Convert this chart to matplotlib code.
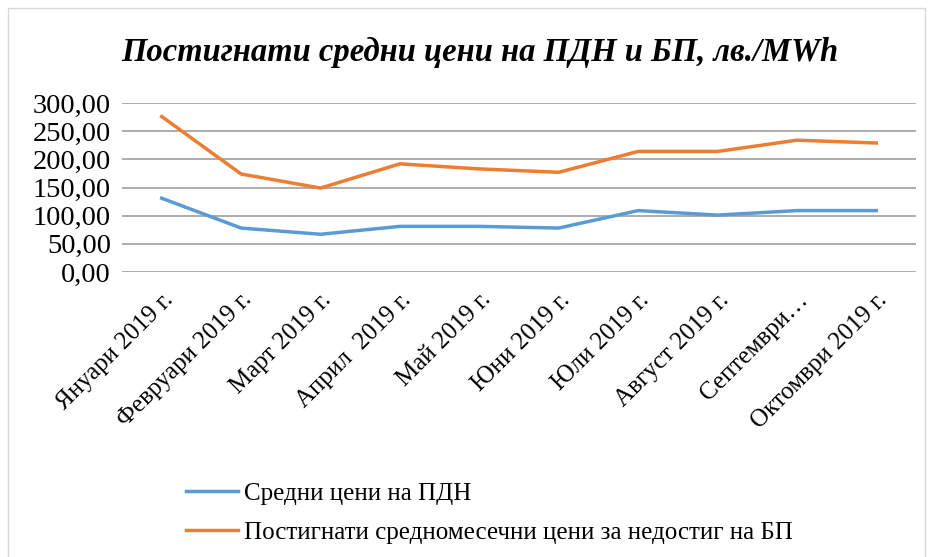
import matplotlib.pyplot as plt
import matplotlib.transforms as mtransforms
from matplotlib.patches import Rectangle

# monthly values
months = ["Януари 2019 г.", "Февруари 2019 г.", "Март 2019 г.", "Април  2019 г.",
          "Май 2019 г.", "Юни 2019 г.", "Юли 2019 г.", "Август 2019 г.",
          "Септември…", "Октомври 2019 г."]
pdn = [131, 78, 67, 81, 81, 78, 109, 101, 109, 109]
bp = [276, 174, 149, 192, 183, 177, 214, 214, 234, 229]
yticks = [0, 50, 100, 150, 200, 250, 300]
ytick_labels = ["0,00", "50,00", "100,00", "150,00", "200,00", "250,00", "300,00"]

plt.rcParams["font.family"] = ["Liberation Serif", "DejaVu Serif"]

fig = plt.figure(figsize=(9.33, 5.57), dpi=100)
#light frame round the whole chart
fig.patches.append(Rectangle((8 / 933, -0.05), 917 / 933, 1.05 - 8 / 557,
                             transform=fig.transFigure, fill=False,
                             edgecolor="#d9d9d9", linewidth=1))

ax = fig.add_axes([122 / 933, 1 - 272 / 557, (916 - 122) / 933, (272 - 103) / 557])
x = range(len(months))
ax.plot(x, pdn, color="#5b9bd5", linewidth=2.5, label="Средни цени на ПДН")
ax.plot(x, bp, color="#ed7d31", linewidth=2.5,
        label="Постигнати средномесечни цени за недостиг на БП")

ax.set_xlim(-0.5, len(months) - 0.5)
ax.set_ylim(0, 300)
ax.set_yticks(yticks)
ax.set_yticklabels(ytick_labels, fontsize=20.5)
ax.set_xticks(list(x))
ax.set_xticklabels(months, rotation=45, ha="right", rotation_mode="anchor", fontsize=18)
#nudge the slanted labels a bit to the right
shift = mtransforms.ScaledTranslation(9 / 100, 0, fig.dpi_scale_trans)
for lbl in ax.get_xticklabels():
    lbl.set_transform(lbl.get_transform() + shift)
ax.tick_params(axis="both", length=0)
ax.tick_params(axis="x", pad=12)
ax.tick_params(axis="y", pad=8)
ax.grid(axis="y", color="#a6a6a6", linewidth=1.3)
ax.set_axisbelow(True)
for s in ax.spines.values():
    s.set_visible(False)

fig.text(480 / 933, 1 - 52 / 557, "Постигнати средни цени на ПДН и БП, лв./MWh",
         ha="center", va="center", fontsize=23.5, fontweight="bold", fontstyle="italic")

fig.legend(loc="upper left", bbox_to_anchor=(163 / 933, 1 - 460 / 557), frameon=False,
           fontsize=18, handlelength=2.1, handletextpad=0.25, labelspacing=0.65)

fig.savefig("out.png", dpi=100)
